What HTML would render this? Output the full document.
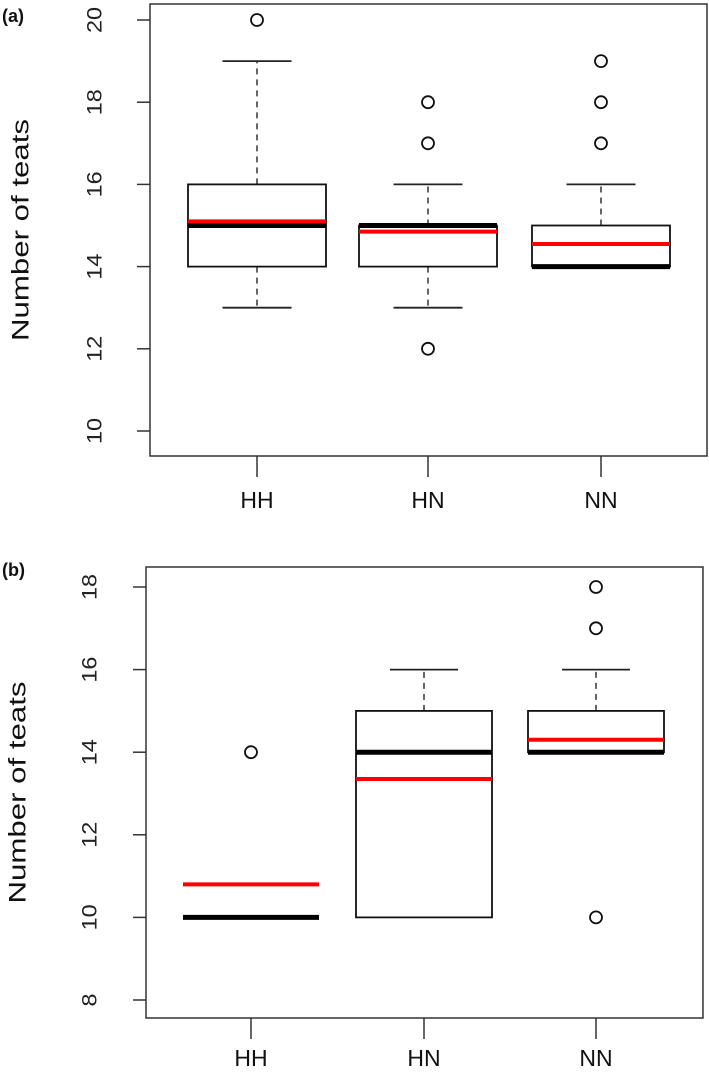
<!DOCTYPE html>
<html><head><meta charset="utf-8"><style>
html,body{margin:0;padding:0;background:#fff;}
svg{display:block;font-family:"Liberation Sans",Arial,sans-serif;}
</style></head><body>
<svg id="chart" width="709" height="1086" viewBox="0 0 709 1086"></svg>
<script>
const categories = ["HH","HN","NN"];
// panel a
const aLowW=[13,13,14], aQ1=[14,14,14], aMed=[15,15,14], aQ3=[16,15,15], aHighW=[19,16,16], aMean=[15.1,14.85,14.55];
const aOut=[[20],[18,17,12],[19,18,17]];
const aTicks=[10,12,14,16,18,20];
// panel b
const bLowW=[10,10,14], bQ1=[10,10,14], bMed=[10,14,14], bQ3=[10,15,15], bHighW=[10,16,16], bMean=[10.8,13.35,14.3];
const bOut=[[14],[],[18,17,10]];
const bTicks=[8,10,12,14,16,18];

const NS="http://www.w3.org/2000/svg";
const svg=document.getElementById('chart');
function el(tag,attrs,parent){const e=document.createElementNS(NS,tag);for(const k in attrs)e.setAttribute(k,attrs[k]);(parent||svg).appendChild(e);return e;}

function panel(p){
  const g=el('g',{});
  
  
  const y=v=>p.y0+(v-p.v0)*(p.y1-p.y0)/(p.v1-p.v0);
  const x=i=>p.xc[i];
  const lbl=el('text',{x:p.lx,y:p.ly,'font-size':18,'font-weight':'bold',fill:'#111'},g);lbl.textContent='('+p.id+')';
  
  
  const frame=el('rect',{x:p.L,y:p.T,width:p.R-p.L,height:p.B-p.T,fill:'none',stroke:'#333','stroke-width':1.5},g);
  
  
  p.ticks.forEach(t=>{
    el('line',{x1:p.L-13,x2:p.L,y1:y(t),y2:y(t),stroke:'#333','stroke-width':1.5},g);
    const tx=el('text',{x:p.tx,y:y(t),'font-size':21,fill:'#222','text-anchor':'middle','dominant-baseline':'central',textLength:(String(t).length*13),lengthAdjust:'spacingAndGlyphs',transform:`rotate(-90 ${p.tx} ${y(t)})`},g);
    tx.textContent=t;
    
    
  });
  const yt=el('text',{x:p.ytx,y:(p.T+p.B)/2,'font-size':24,fill:'#111','text-anchor':'middle','dominant-baseline':'central',textLength:222,lengthAdjust:'spacingAndGlyphs',transform:`rotate(-90 ${p.ytx} ${(p.T+p.B)/2})`},g);
  yt.textContent='Number of teats';
  
  
  categories.forEach((c,i)=>{
    const cx=x(i);
    el('line',{x1:cx,x2:cx,y1:p.B,y2:p.B+21,stroke:'#333','stroke-width':1.5},g);
    const t=el('text',{x:cx,y:p.xly,'font-size':23,fill:'#111','text-anchor':'middle'},g);t.textContent=c;
    
    
    const bg=el('g',{},g);
    
    
    const hw=p.hw, ww=hw/2;
    const d=p.d;
    if(d.hi[i]>d.q3[i]){
      el('line',{x1:cx,x2:cx,y1:y(d.q3[i]),y2:y(d.hi[i]),stroke:'#333','stroke-width':1.5,'stroke-dasharray':'6,5'},bg);
      el('line',{x1:cx-ww,x2:cx+ww,y1:y(d.hi[i]),y2:y(d.hi[i]),stroke:'#222','stroke-width':1.8},bg);
    }
    if(d.lo[i]<d.q1[i]){
      el('line',{x1:cx,x2:cx,y1:y(d.q1[i]),y2:y(d.lo[i]),stroke:'#333','stroke-width':1.5,'stroke-dasharray':'6,5'},bg);
      el('line',{x1:cx-ww,x2:cx+ww,y1:y(d.lo[i]),y2:y(d.lo[i]),stroke:'#222','stroke-width':1.8},bg);
    }
    if(d.q3[i]>d.q1[i]) el('rect',{x:cx-hw,y:y(d.q3[i]),width:2*hw,height:y(d.q1[i])-y(d.q3[i]),fill:'none',stroke:'#111','stroke-width':1.8},bg);
    el('line',{x1:cx-hw,x2:cx+hw,y1:y(d.med[i]),y2:y(d.med[i]),stroke:'#000','stroke-width':5},bg);
    el('line',{x1:cx-hw,x2:cx+hw,y1:y(d.mean[i]),y2:y(d.mean[i]),stroke:'#f00','stroke-width':4},bg);
    d.out[i].forEach(v=>{
      const o=el('circle',{cx:cx,cy:y(v),r:6,fill:'none',stroke:'#111','stroke-width':1.8},bg);
      
      
    });
  });
}
panel({id:'a',L:150,R:707,T:4,B:456,v0:10,v1:20,y0:431,y1:20,xc:[257,428,601],hw:69,tx:95,ytx:21,xly:508,lx:2,ly:22,ticks:aTicks,
  d:{lo:aLowW,q1:aQ1,med:aMed,q3:aQ3,hi:aHighW,mean:aMean,out:aOut}});
panel({id:'b',L:146,R:703,T:567,B:1018,v0:8,v1:18,y0:1000,y1:587,xc:[251,424,596],hw:68,tx:90,ytx:18,xly:1066,lx:2,ly:576,ticks:bTicks,
  d:{lo:bLowW,q1:bQ1,med:bMed,q3:bQ3,hi:bHighW,mean:bMean,out:bOut}});
</script>
</body></html>
